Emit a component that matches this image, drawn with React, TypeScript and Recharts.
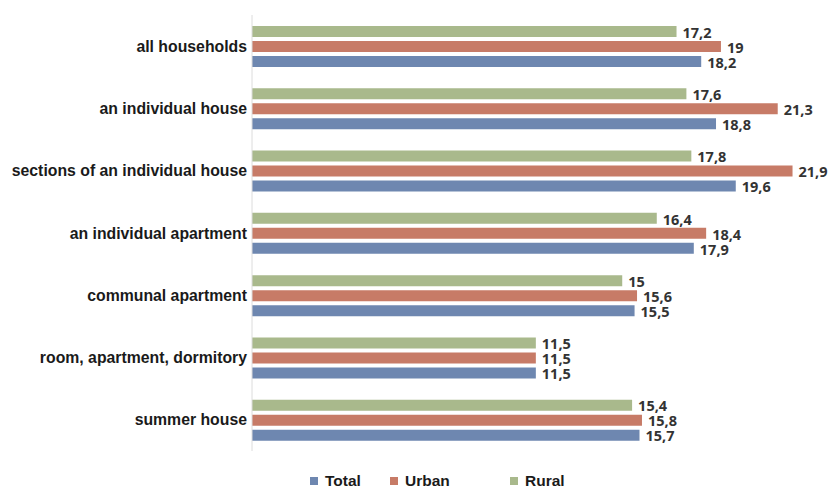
import { BarChart, Bar, XAxis, YAxis, Legend, LabelList } from 'recharts'

const categories = [
  'all households',
  'an individual house',
  'sections of an individual house',
  'an individual apartment',
  'communal apartment',
  'room, apartment, dormitory',
  'summer house',
]
const rural = [17.2, 17.6, 17.8, 16.4, 15, 11.5, 15.4]
const urban = [19, 21.3, 21.9, 18.4, 15.6, 11.5, 15.8]
const total = [18.2, 18.8, 19.6, 17.9, 15.5, 11.5, 15.7]

const COLORS = { Total: '#6e87b0', Urban: '#c77b67', Rural: '#a9b98c' }
const legendOrder = ['Total', 'Urban', 'Rural'] as const
const legendLeft = [310, 390, 510]

const data = categories.map((name, i) => ({ name, Rural: rural[i], Urban: urban[i], Total: total[i] }))

const fmt = (v: unknown) => String(v).replace('.', ',')

const labelStyle = { fontFamily: '"Open Sans", sans-serif', fontWeight: 700, fontSize: 14.5, fill: '#333' }

function CustomLegend() {
  return (
    <div style={{ position: 'relative', width: 831, height: 38 }}>
      {legendOrder.map((k, i) => (
        <div key={k} style={{ position: 'absolute', left: legendLeft[i], top: 20, display: 'flex', alignItems: 'center', height: 20 }}>
          <span style={{ width: 8, height: 8, background: COLORS[k], display: 'inline-block', marginRight: 7 }} />
          <span style={{ fontFamily: '"Liberation Sans", Arial, sans-serif', fontWeight: 700, fontSize: 15.5, color: '#1a1a1a' }}>{k}</span>
        </div>
      ))}
    </div>
  )
}

export default function App() {
  return (
    <div style={{ position: 'absolute', left: 0, top: 0, width: 831, height: 489, background: '#fff' }}>
      <BarChart
        width={831}
        height={489}
        data={data}
        layout="vertical"
        margin={{ top: 15, right: 36, bottom: 0, left: 0 }}
        barSize={11}
        barGap={4}
      >
        <XAxis type="number" domain={[0, 22]} hide />
        <YAxis
          type="category"
          dataKey="name"
          width={252}
          tickLine={false}
          tickSize={0}
          tickMargin={5}
          axisLine={{ stroke: '#dcdcdc' }}
          tick={{ fontFamily: '"Liberation Sans", Arial, sans-serif', fontWeight: 700, fontSize: 15.8, fill: '#1a1a1a' }}
        />
        <Legend verticalAlign="bottom" content={<CustomLegend />} wrapperStyle={{ left: 0, bottom: 0, width: 831, height: 38 }} />
        <Bar dataKey="Rural" fill={COLORS.Rural} isAnimationActive={false}>
          <LabelList dataKey="Rural" position="right" offset={6} formatter={fmt} style={labelStyle} dy={1} />
        </Bar>
        <Bar dataKey="Urban" fill={COLORS.Urban} isAnimationActive={false}>
          <LabelList dataKey="Urban" position="right" offset={6} formatter={fmt} style={labelStyle} dy={1} />
        </Bar>
        <Bar dataKey="Total" fill={COLORS.Total} isAnimationActive={false}>
          <LabelList dataKey="Total" position="right" offset={6} formatter={fmt} style={labelStyle} dy={1} />
        </Bar>
      </BarChart>
    </div>
  )
}
